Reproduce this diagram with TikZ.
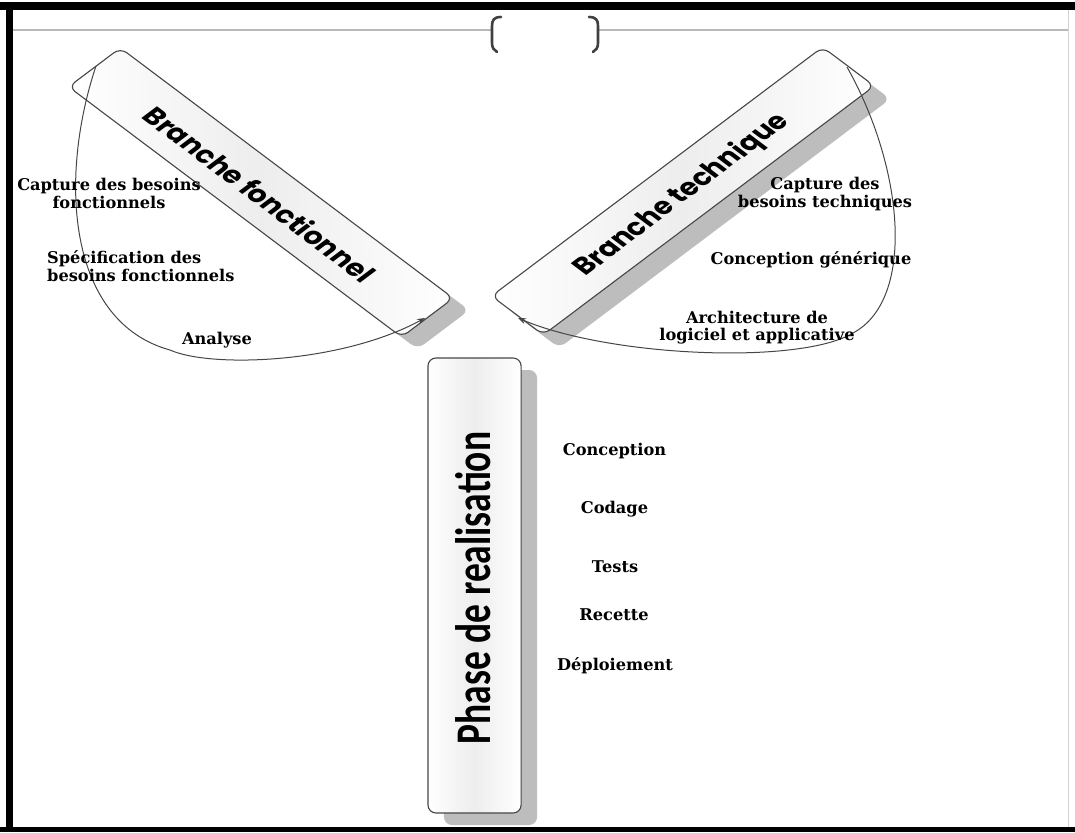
\documentclass[tikz,border=0pt]{standalone}
\usepackage{fontspec}
\usetikzlibrary{arrows.meta}
\newfontfamily\labfont{DejaVu Serif}
\newfontfamily\geofont{Poppins}
\newfontfamily\phasefont{Carlito}
\tikzset{
  barbox/.style={draw=gray!55!black, line width=1.1pt, rounded corners=8pt, shade, left color=white, right color=white, middle color=gray!14, inner sep=0pt},
  shadowbar/.style={fill=gray!52, rounded corners=8pt, inner sep=0pt},
  labtext/.style={font=\labfont\bfseries\fontsize{16.2}{17.5}\selectfont, text=black, align=center, inner sep=0pt},
  looparrow/.style={draw=gray!55!black, line width=1pt, -{Stealth[length=8pt,width=6pt]}},
  headline/.style={draw=gray!55, line width=1.6pt},
  bracket/.style={draw=gray!50!black, line width=2.6pt, line cap=round},
}
\begin{document}
\begin{tikzpicture}[x=1pt,y=-1pt]
\useasboundingbox (0,0) rectangle (1075,832);
% frame
\fill[black] (0,2) rectangle (1075,10);
\fill[black] (6,2) rectangle (13,832);
\fill[black] (0,827) rectangle (1075,832);
\draw[gray!35, line width=0.8pt] (1068,10) -- (1068,827);
% header
\coordinate (h1) at (13,30);
\coordinate (h2) at (491,30);
\coordinate (h3) at (599,30);
\coordinate (h4) at (1068,30);
\draw[headline] (h1) -- (h2);
\draw[headline] (h3) -- (h4);
\draw[bracket] (501,17) .. controls (494,17) and (492,20) .. (492,26) -- (492,43) .. controls (492,48) and (494,50) .. (497,52);
\draw[bracket] (589,17) .. controls (596,17) and (598,20) .. (598,26) -- (598,43) .. controls (598,48) and (596,50) .. (593,52);
% bars, drawn in a horizontally stretched frame
\begin{scope}[xscale=1.33, transform shape]
  \node[shadowbar, minimum width=354pt, minimum height=55pt, rotate=-45] (bfs) at (208.2,204.5) {};
  \node[shadowbar, minimum width=352pt, minimum height=55pt, rotate=45] (bts) at (525.5,204) {};
  \node[shadowbar, minimum width=70pt, minimum height=455pt] (phs) at (368.8,597.5) {};
  \node[barbox, minimum width=354pt, minimum height=55pt, rotate=-45] (bf) at (196.2,192.5) {};
  \node[barbox, minimum width=352pt, minimum height=55pt, rotate=45] (bt) at (513.5,191) {};
  \node[barbox, minimum width=70pt, minimum height=455pt] (ph) at (356.8,585.5) {};
\end{scope}
% loops
\coordinate (la) at (96,66);
\coordinate (lb) at (170,350);
\coordinate (lc) at (425,318);
\draw[looparrow] (la) .. controls (58,180) and (68,322) .. (lb) .. controls (210,368) and (340,364) .. (lc);
\coordinate (ra) at (847,67);
\coordinate (rb) at (853,333);
\coordinate (rc) at (518,318);
\draw[looparrow] (ra) .. controls (905,170) and (915,300) .. (rb) .. controls (800,365) and (610,357) .. (rc);
% bar titles
\begin{scope}[xscale=1.33, transform shape]
  \node[rotate=-45, inner sep=0pt] (bft) at (195.5,194) {\resizebox{235pt}{19pt}{\geofont\bfseries Branche fonctionnel}};
  \node[rotate=45, inner sep=0pt] (btt) at (512.8,195) {\resizebox{218pt}{19pt}{\geofont\bfseries Branche technique}};
  \node[rotate=90, inner sep=0pt] (pht) at (355.6,588) {\phasefont\bfseries\fontsize{37.5}{40}\selectfont Phase de realisation};
\end{scope}
% labels left
\node[labtext] (lf1) at (109,193.5) {Capture des besoins\\fonctionnels};
\node[labtext, align=left, anchor=west] (lf2) at (47,266) {Spécification des\\besoins fonctionnels};
\node[labtext] (lf3) at (217,340) {Analyse};
% labels right
\node[labtext] (rt1) at (825,194) {Capture des\\besoins techniques};
\node[labtext] (rt2) at (811,260) {Conception générique};
\node[labtext] (rt3) at (757,327.5) {Architecture de\\logiciel et applicative};
% labels bottom
\node[labtext] (p1) at (614.5,451) {Conception};
\node[labtext] (p2) at (614.5,509) {Codage};
\node[labtext] (p3) at (615,567) {Tests};
\node[labtext] (p4) at (614,615) {Recette};
\node[labtext] (p5) at (615,666) {Déploiement};
\end{tikzpicture}
\end{document}
